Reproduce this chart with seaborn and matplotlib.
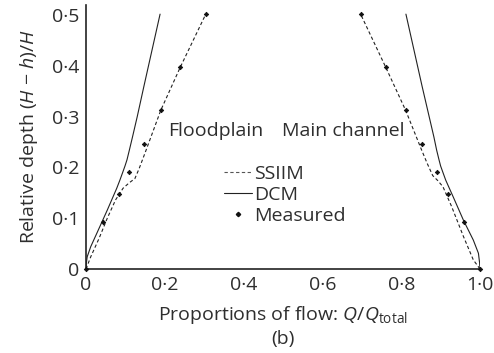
import numpy as np
import pandas as pd
import matplotlib
matplotlib.use("Agg")
import matplotlib.pyplot as plt
import seaborn as sns
from matplotlib.ticker import FixedLocator, FixedFormatter, MultipleLocator
from matplotlib.lines import Line2D

# Measured proportions of flow at each relative depth
depth_meas = [0.0, 0.093, 0.148, 0.192, 0.247, 0.313, 0.397, 0.502]
fp_meas = [0.0, 0.042, 0.084, 0.110, 0.146, 0.190, 0.239, 0.304]
mc_meas = [1.0, 0.959, 0.918, 0.891, 0.854, 0.811, 0.761, 0.697]

# SSIIM results
ssiim_depth = [0.0, 0.024, 0.060, 0.100, 0.136, 0.159, 0.170, 0.178, 0.198, 0.231, 0.313, 0.397, 0.502]
ssiim_fp = [0.0, 0.012, 0.033, 0.054, 0.075, 0.094, 0.110, 0.124, 0.135, 0.151, 0.190, 0.239, 0.304]
ssiim_mc_depth = [0.0, 0.018, 0.064, 0.123, 0.162, 0.174, 0.184, 0.208, 0.234, 0.313, 0.397, 0.502]
ssiim_mc = [1.0, 0.983, 0.958, 0.928, 0.906, 0.893, 0.880, 0.866, 0.852, 0.811, 0.761, 0.697]

# DCM results
dcm_depth = [0.0, 0.012, 0.024, 0.044, 0.073, 0.116, 0.159, 0.175, 0.190, 0.203, 0.215, 0.234, 0.260, 0.300, 0.360, 0.502]
dcm_fp = [0.0, 0.001, 0.003, 0.012, 0.029, 0.054, 0.078, 0.086, 0.093, 0.099, 0.104, 0.110, 0.118, 0.130, 0.147, 0.188]
dcm_mc_depth = [0.0, 0.012, 0.031, 0.057, 0.096, 0.142, 0.175, 0.190, 0.203, 0.215, 0.234, 0.260, 0.300, 0.360, 0.502]
dcm_mc = [1.0, 0.999, 0.996, 0.983, 0.958, 0.932, 0.913, 0.906, 0.900, 0.896, 0.890, 0.883, 0.871, 0.853, 0.812]

x_ticks = [0.0, 0.2, 0.4, 0.6, 0.8, 1.0]
x_tick_labels = ["0", "0·2", "0·4", "0·6", "0·8", "1·0"]
y_ticks = [0.0, 0.1, 0.2, 0.3, 0.4, 0.5]
y_tick_labels = ["0", "0·1", "0·2", "0·3", "0·4", "0·5"]

sns.set_style("white")
plt.rcParams["font.family"] = ["Open Sans", "DejaVu Sans"]
plt.rcParams["mathtext.fontset"] = "custom"
plt.rcParams["mathtext.rm"] = "Open Sans"
plt.rcParams["mathtext.it"] = "Open Sans:italic"
plt.rcParams["mathtext.bf"] = "Open Sans:bold"

FS = 14
TXT = "#2e2e2e"
DASH = (0, (3.0, 2.2))

fig = plt.figure(figsize=(4.94, 3.53), dpi=100)
ax = fig.add_axes([86 / 494, 1 - 269 / 353, (480 - 86) / 494, (269 - 5) / 353])

line_kw = dict(color="#222222", linewidth=0.8, sort=False, estimator=None, ax=ax)
sns.lineplot(x=ssiim_fp, y=ssiim_depth, linestyle=DASH, **line_kw)
sns.lineplot(x=ssiim_mc, y=ssiim_mc_depth, linestyle=DASH, **line_kw)
sns.lineplot(x=dcm_fp, y=dcm_depth, linestyle="-", **line_kw)
sns.lineplot(x=dcm_mc, y=dcm_mc_depth, linestyle="-", **line_kw)

meas = pd.DataFrame({"q": fp_meas + mc_meas, "d": depth_meas + depth_meas})
sns.scatterplot(data=meas, x="q", y="d", marker="D", s=5, color="#111111",
                edgecolor="#111111", linewidth=0.6, ax=ax, zorder=5, clip_on=False)

ax.set_xlim(0, 1.0)
ax.set_ylim(0, 0.52)
ax.xaxis.set_major_locator(FixedLocator(x_ticks))
ax.xaxis.set_major_formatter(FixedFormatter(x_tick_labels))
ax.xaxis.set_minor_locator(MultipleLocator(0.04))
ax.yaxis.set_major_locator(FixedLocator(y_ticks))
ax.yaxis.set_major_formatter(FixedFormatter(y_tick_labels))
ax.yaxis.set_minor_locator(MultipleLocator(0.02))
ax.tick_params(which="both", direction="in", color="#222222", width=0.8,
               labelsize=FS, labelcolor=TXT)
ax.tick_params(which="major", length=4)
ax.tick_params(which="minor", length=3)
ax.tick_params(axis="x", pad=5)
ax.tick_params(axis="y", pad=5)

for side in ("top", "right"):
    ax.spines[side].set_visible(False)
for side in ("left", "bottom"):
    ax.spines[side].set_color("#222222")
    ax.spines[side].set_linewidth(1.2)

ax.set_xlabel(r"Proportions of flow: $Q/Q_{\mathrm{total}}$", fontsize=FS, color=TXT, labelpad=7)
ax.set_ylabel(r"Relative depth ($H$ − $h$)/$H$", fontsize=FS, color=TXT, labelpad=8)
fig.text(283 / 494, 1 - 339 / 353, "(b)", fontsize=FS, color=TXT, ha="center", va="center")

ax.text(0.208, 0.272, "Floodplain", fontsize=FS, color=TXT, va="center", ha="left")
ax.text(0.497, 0.272, "Main channel", fontsize=FS, color=TXT, va="center", ha="left")

handles = [
    Line2D([], [], color="#555555", linewidth=0.8, linestyle=DASH),
    Line2D([], [], color="#222222", linewidth=0.8, linestyle="-"),
    Line2D([], [], color="#111111", marker="D", markersize=2.2, linestyle="none"),
]
ax.legend(handles, ["SSIIM", "DCM", "Measured"], loc="upper left",
          bbox_to_anchor=(224 / 494, 1 - 165 / 353), bbox_transform=fig.transFigure,
          frameon=False, fontsize=FS, handlelength=1.45, handletextpad=0.1,
          labelspacing=0.15, borderpad=0, borderaxespad=0, labelcolor=TXT)

fig.savefig("out.png", dpi=100)
